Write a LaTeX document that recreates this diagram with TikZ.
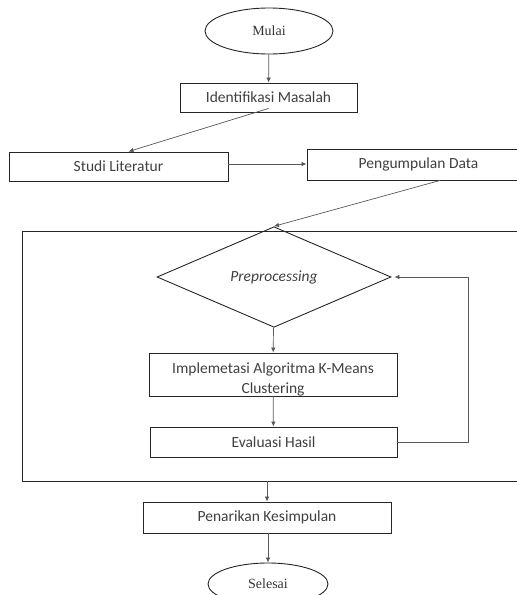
\documentclass[tikz,border=0pt]{standalone}
\usepackage{fontspec}
\setmainfont{Carlito}
\newfontfamily\serifx{Liberation Serif}
\usetikzlibrary{shapes.geometric,arrows.meta}
\begin{document}
\begin{tikzpicture}[x=1pt,y=-1pt,
  box/.style={draw=black!85,line width=0.9pt,rectangle,inner sep=0pt,font=\fontsize{15.5}{18}\selectfont,text=black!75},
  term/.style={draw=black!85,line width=0.9pt,ellipse,inner sep=0pt,font=\serifx\fontsize{14}{16}\selectfont,text=black!80},
  conn/.style={draw=black!65,line width=0.7pt,-{Latex[length=5pt,width=4.5pt]}},
  plain/.style={draw=black!65,line width=0.7pt}]
\useasboundingbox (0,0) rectangle (517,595);
\clip (0,0) rectangle (517,595);
\node[term,minimum width=128pt,minimum height=46pt] (mulai) at (269,31) {Mulai};
\node[box,minimum width=177pt,minimum height=29pt] (ident) at (268.5,97.5) {Identifikasi Masalah};
\node[box,minimum width=219pt,minimum height=29pt] (studi) at (118.5,166.5) {Studi Literatur};
\node[box,minimum width=223pt,minimum height=31pt] (peng) at (418.5,164.5) {Pengumpulan Data};
\node[box,minimum width=518pt,minimum height=250pt] (frame) at (281,356) {};
\node[draw=black!85,line width=0.9pt,diamond,inner sep=0pt,minimum width=234pt,minimum height=92pt,font=\itshape\fontsize{15.5}{18}\selectfont,text=black!75] (dia) at (274,277) {Preprocessing};
\node[box,minimum width=248pt,minimum height=43pt] (impl) at (273,374.5) {};
\node[font=\fontsize{15.5}{20}\selectfont,text=black!75,align=center,inner sep=0pt] (impltext) at (273,379) {Implemetasi Algoritma K-Means\\Clustering};
\node[box,minimum width=247pt,minimum height=30pt] (eval) at (273.5,442) {Evaluasi Hasil};
\node[box,minimum width=248pt,minimum height=31pt] (pen) at (267,517.5) {Penarikan Kesimpulan};
\node[term,minimum width=120pt,minimum height=42pt] (sel) at (268,584) {Selesai};
\coordinate (fb) at (468,277);
\draw[conn] (mulai) -- (ident);
\draw[conn] ([yshift=4pt]ident.south) -- ([xshift=10pt]studi.north);
\draw[conn] (studi.east |- 0,164) -- (peng.west |- 0,164);
\draw[conn] ([xshift=21.5pt]peng.south) -- (dia.north);
\draw[conn] (dia) -- (impl);
\draw[conn] (impl) -- (eval);
\draw[plain] (eval.east) -| (fb);
\draw[conn] (fb) -- ([xshift=3pt]dia.east);
\draw[conn] (pen.north |- frame.south) -- (pen.north);
\draw[conn] (pen.south -| sel.north) -- (sel.north);
\end{tikzpicture}
\end{document}
